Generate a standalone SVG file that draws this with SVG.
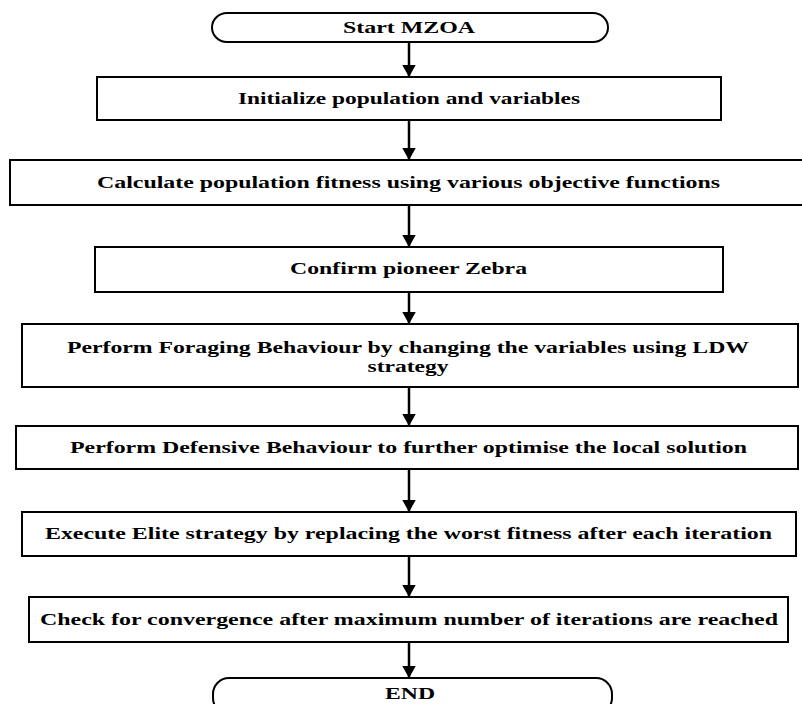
<svg xmlns="http://www.w3.org/2000/svg" width="802" height="704" viewBox="0 0 802 704">
<style>
.box{fill:#fff;stroke:#000;stroke-width:2}
.t{font-family:"Liberation Serif","Times New Roman",serif;font-weight:bold;font-size:16px;fill:#000;text-anchor:middle}
.c{stroke:#000;stroke-width:2.5;fill:none}
</style>
<defs>
<marker id="ah" viewBox="0 0 10 10" refX="10" refY="5" markerWidth="5" markerHeight="5.6" markerUnits="strokeWidth" orient="auto" preserveAspectRatio="none">
<path d="M0,0 L10,5 L0,10 Z" fill="#000"/>
</marker>
</defs>
<rect width="802" height="704" fill="#fff"/>
<g id="connectors">
<line class="c" x1="409" y1="42" x2="409" y2="77" marker-end="url(#ah)"/>
<line class="c" x1="409" y1="120" x2="409" y2="160" marker-end="url(#ah)"/>
<line class="c" x1="409" y1="205" x2="409" y2="247" marker-end="url(#ah)"/>
<line class="c" x1="409" y1="292" x2="409" y2="324" marker-end="url(#ah)"/>
<line class="c" x1="409" y1="387" x2="409" y2="426" marker-end="url(#ah)"/>
<line class="c" x1="409" y1="469" x2="409" y2="512" marker-end="url(#ah)"/>
<line class="c" x1="409" y1="556" x2="409" y2="597" marker-end="url(#ah)"/>
<line class="c" x1="409" y1="642" x2="409" y2="678" marker-end="url(#ah)"/>
</g>
<g id="start">
<rect class="box" x="212" y="13" width="396" height="29" rx="15" ry="14.5"/>
<text class="t" x="409" y="33" textLength="132" lengthAdjust="spacingAndGlyphs">Start MZOA</text>
</g>
<g id="init">
<rect class="box" x="97" y="77" width="624" height="43"/>
<text class="t" x="409" y="104" textLength="342" lengthAdjust="spacingAndGlyphs">Initialize population and variables</text>
</g>
<g id="fitness">
<rect class="box" x="10" y="160" width="800" height="45"/>
<text class="t" x="408.5" y="188" textLength="623" lengthAdjust="spacingAndGlyphs">Calculate population fitness using various objective functions</text>
</g>
<g id="pioneer">
<rect class="box" x="95" y="247" width="628" height="45"/>
<text class="t" x="408.5" y="274" textLength="237" lengthAdjust="spacingAndGlyphs">Confirm pioneer Zebra</text>
</g>
<g id="foraging">
<rect class="box" x="22" y="324" width="776" height="63"/>
<text class="t" x="408" y="353" textLength="682" lengthAdjust="spacingAndGlyphs">Perform Foraging Behaviour by changing the variables using LDW</text>
<text class="t" x="408" y="372" textLength="81" lengthAdjust="spacingAndGlyphs">strategy</text>
</g>
<g id="defensive">
<rect class="box" x="16" y="426" width="782" height="43"/>
<text class="t" x="408.5" y="453" textLength="677" lengthAdjust="spacingAndGlyphs">Perform Defensive Behaviour to further optimise the local solution</text>
</g>
<g id="elite">
<rect class="box" x="22" y="512" width="774" height="44"/>
<text class="t" x="408.5" y="539" textLength="727" lengthAdjust="spacingAndGlyphs">Execute Elite strategy by replacing the worst fitness after each iteration</text>
</g>
<g id="convergence">
<rect class="box" x="29" y="597" width="759" height="45"/>
<text class="t" x="409" y="625" textLength="738" lengthAdjust="spacingAndGlyphs">Check for convergence after maximum number of iterations are reached</text>
</g>
<g id="end">
<rect class="box" x="213" y="678" width="399" height="36" rx="16" ry="16"/>
<text class="t" x="410" y="699" textLength="50" lengthAdjust="spacingAndGlyphs">END</text>
</g>
</svg>
